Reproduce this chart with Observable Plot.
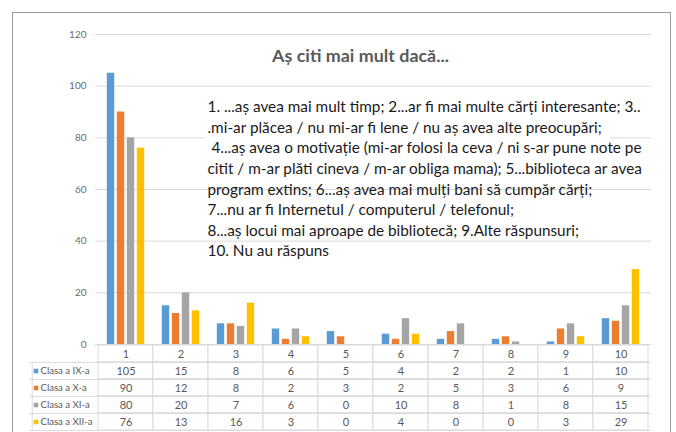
<!DOCTYPE html>
<html><head><meta charset="utf-8">
<script src="https://cdn.jsdelivr.net/npm/d3@7"></script>
<script src="https://cdn.jsdelivr.net/npm/@observablehq/plot@0.6"></script>
<style>
body{margin:0;background:#fff;}
#wrap{position:relative;width:676px;height:432px;overflow:hidden;font-family:Lato, sans-serif;background:#fff}
#frame{position:absolute;left:12px;top:12px;width:657px;height:440px;border:1px solid #9a9a9a;pointer-events:none}
#topchart{position:absolute;left:0;top:0}
#tbl{position:absolute;left:0;top:343.5px}
</style></head><body>
<div id="wrap"><div id="topchart"></div><div id="tbl"></div><div id="frame"></div></div>
<script>
const categories = ["1","2","3","4","5","6","7","8","9","10"];
const seriesNames = ["Clasa a IX-a","Clasa a X-a","Clasa a XI-a","Clasa a XII-a"];
const seriesColors = ["#5B9BD5","#ED7D31","#A5A5A5","#FFC000"];
const valsIX  = [105,15,8,6,5,4,2,2,1,10];
const valsX   = [90,12,8,2,3,2,5,3,6,9];
const valsXI  = [80,20,7,6,0,10,8,1,8,15];
const valsXII = [76,13,16,3,0,4,0,0,3,29];
const yTicks = [0,20,40,60,80,100,120];
const chartTitle = "Aș citi mai mult dacă...";
const noteLines = [
  "1. ...aș avea mai mult timp; 2...ar fi mai multe cărți interesante; 3..",
  ".mi-ar plăcea / nu mi-ar fi lene / nu aș avea alte preocupări;",
  "\u00a04...aș avea o motivație (mi-ar folosi la ceva / ni s-ar pune note pe",
  "citit / m-ar plăti cineva / m-ar obliga mama); 5...biblioteca ar avea",
  "program extins; 6...aș avea mai mulți bani să cumpăr cărți;",
  "7...nu ar fi Internetul / computerul / telefonul;",
  "8...aș locui mai aproape de bibliotecă; 9.Alte răspunsuri;",
  "10. Nu au răspuns"
];

const allVals = [valsIX, valsX, valsXI, valsXII];
const W = 676, ML = 95, MR = 25;
const bw = (W - ML - MR) / categories.length;
const barW = 8, step = 10;
const gridColor = "#d9d9d9";
const font = "Lato, 'Open Sans', sans-serif";

const barMarks = seriesNames.map((s, i) =>
  Plot.barY(categories.map((c, j) => ({cat: c, value: allVals[i][j]})), {
    x: "cat", y: "value", fill: seriesColors[i],
    insetLeft: (bw - barW) / 2, insetRight: (bw - barW) / 2,
    dx: (i - 1.5) * step
  })
);

const noteSize = 15.2;
const noteTargetWidth = 433;
const mainChart = Plot.plot({
  width: W, height: 354,
  marginTop: 34, marginBottom: 10, marginLeft: ML, marginRight: MR,
  style: {fontFamily: font, fontSize: "10px", color: "#6b6b6b", background: "transparent"},
  x: {type: "band", domain: categories, padding: 0, axis: null},
  y: {domain: [0, 120], ticks: yTicks, tickSize: 0, tickPadding: 9, label: null},
  marks: [
    Plot.ruleY(yTicks, {stroke: gridColor}),
    Plot.ruleY([80], {stroke: "white", strokeWidth: 3, insetLeft: 110, insetRight: 41}),
    ...barMarks,
    Plot.text([chartTitle], {frameAnchor: "top", lineAnchor: "middle", dx: -13, dy: 22, fontSize: 17.9, fontWeight: "bold", fill: "#595959", fontFamily: font}),
    Plot.text([noteLines.join("\n")], {frameAnchor: "top-left", dx: 112, dy: 63, textAnchor: "start", lineAnchor: "top", lineHeight: 20.6 / noteSize, fontSize: noteSize, fill: "#1a1a1a", fontFamily: font, className: "note"})
  ]
});
document.getElementById("topchart").append(mainChart);

// fit the note's first line to the reference width (font metrics differ from Calibri)
const noteText = mainChart.querySelector(".note text");
if (noteText) {
  const t0 = noteText.querySelector("tspan");
  if (t0) {
    const len = t0.getComputedTextLength();
    if (len > 0) {
      const k = noteTargetWidth / len;
      noteText.setAttribute("font-size", (noteSize * k).toFixed(2));
      noteText.querySelectorAll("tspan").forEach((ts, i) => {
        if (i > 0) ts.setAttribute("dy", (20.6).toFixed(2));
      });
    }
  }
}

const rows = ["hdr", ...seriesNames];
const cells = [];
categories.forEach((c, j) => {
  cells.push({cat: c, row: "hdr", text: c});
  seriesNames.forEach((s, i) => cells.push({cat: c, row: s, text: String(allVals[i][j])}));
});
const TH = 87;
const rowH = (TH - 1) / rows.length;
const legendW = 66;

const tbl = Plot.plot({
  width: W, height: TH,
  marginTop: 0.5, marginBottom: 0.5, marginLeft: ML, marginRight: MR,
  style: {fontFamily: font, fontSize: "10px", color: "#595959", background: "transparent"},
  x: {type: "band", domain: categories, padding: 0, axis: null},
  y: {type: "band", domain: rows, padding: 0, axis: null},
  marks: [
    Plot.cell(cells, {x: "cat", y: "row", fill: "white", stroke: gridColor}),
    Plot.ruleY(seriesNames, {y: d => d, dy: -rowH / 2, insetLeft: -legendW, stroke: gridColor}),
    Plot.ruleY([seriesNames[seriesNames.length - 1]], {y: d => d, dy: rowH / 2, insetLeft: -legendW, stroke: gridColor}),
    Plot.tickX(seriesNames, {x: () => categories[0], y: d => d, dx: -bw / 2 - legendW, stroke: gridColor}),
    Plot.text(cells, {x: "cat", y: "row", text: "text", fill: "#595959", fontSize: 11}),
    ...seriesNames.map((s, i) => Plot.dot([s], {y: d => d, frameAnchor: "left", dx: -legendW + 6.5, symbol: "square", r: 2.6, fill: seriesColors[i], stroke: null})),
    Plot.text(seriesNames, {y: d => d, text: d => d, frameAnchor: "left", dx: -legendW + 11, textAnchor: "start", fill: "#595959", fontSize: 9.6})
  ]
});
document.getElementById("tbl").append(tbl);
</script>
</body></html>
